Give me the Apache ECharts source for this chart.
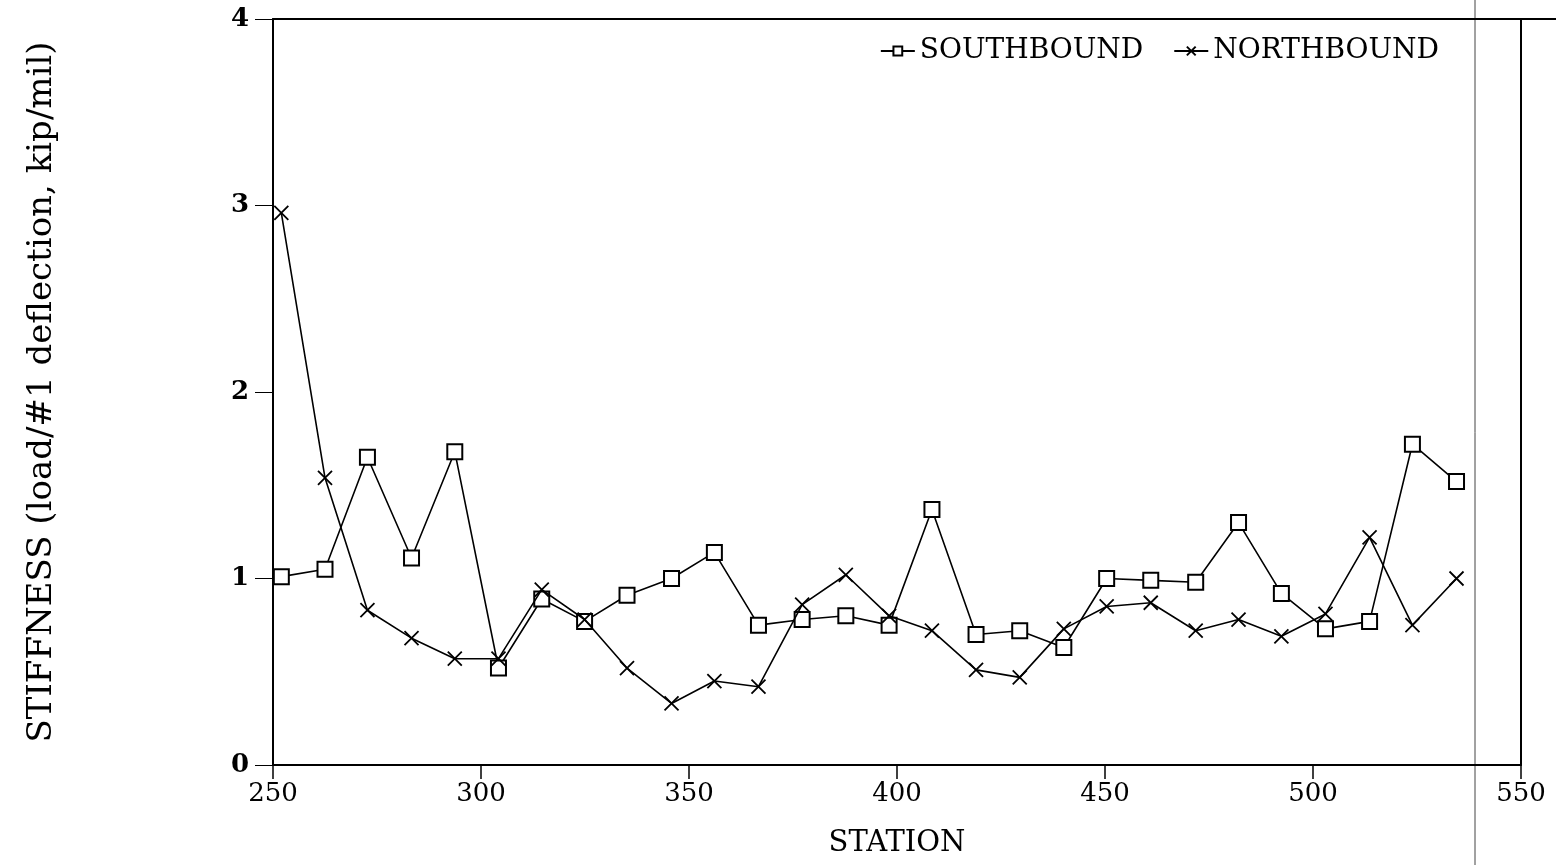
<!DOCTYPE html>
<html>
<head>
<meta charset="utf-8">
<script src="https://cdn.jsdelivr.net/npm/echarts@6/dist/echarts.min.js"></script>
<style>
  html, body { margin: 0; padding: 0; background: #fff; }
  #chart { width: 1556px; height: 865px; }
</style>
</head>
<body>
<div id="chart"></div>
<script>
// station positions
var stations = [252, 262.5, 272.7, 283.3, 293.7, 304.2, 314.6, 324.9, 335.1, 345.8,
  356.1, 366.7, 377.2, 387.7, 398.1, 408.4, 419, 429.5, 440.1, 450.4,
  461, 471.8, 482.1, 492.4, 503, 513.6, 523.9, 534.5]
// stiffness, kip/mil
var southbound = [1.01, 1.05, 1.65, 1.11, 1.68, 0.52, 0.89, 0.77, 0.91, 1.0,
  1.14, 0.75, 0.78, 0.80, 0.75, 1.37, 0.70, 0.72, 0.63, 1.0,
  0.99, 0.98, 1.30, 0.92, 0.73, 0.77, 1.72, 1.52]
var northbound = [2.96, 1.54, 0.83, 0.68, 0.57, 0.57, 0.94, 0.78, 0.52, 0.33,
  0.45, 0.42, 0.86, 1.02, 0.80, 0.72, 0.51, 0.47, 0.73, 0.85,
  0.87, 0.72, 0.78, 0.69, 0.81, 1.22, 0.75, 1.0]

var font = 'DejaVu Serif'
var cross = 'path://M0,0L10,10M10,0L0,10'

function pairs(ys) {
  return stations.map(function (s, i) { return [s, ys[i]] })
}

var chart = echarts.init(document.getElementById('chart'))
var option = {
  animation: false,
  backgroundColor: '#fff',
  grid: { left: 273, top: 19, right: 35, bottom: 100 },
  legend: {
    right: 112,
    top: 32,
    itemWidth: 34,
    itemHeight: 11,
    itemGap: 30,
    textStyle: { fontFamily: font, fontSize: 28, color: '#000' },
    data: ['SOUTHBOUND', 'NORTHBOUND']
  },
  xAxis: [
    {
      type: 'value',
      min: 250,
      max: 550,
      interval: 50,
      name: 'STATION',
      nameLocation: 'middle',
      nameGap: 64,
      nameTextStyle: { fontFamily: font, fontSize: 29, color: '#000' },
      axisLine: { lineStyle: { color: '#000', width: 2 } },
      axisTick: { inside: false, length: 14, lineStyle: { color: '#000', width: 1.5 } },
      axisLabel: { margin: 16, fontFamily: font, fontSize: 26, color: '#000' },
      splitLine: { show: false }
    },
    {
      type: 'value',
      position: 'top',
      min: 250,
      max: 550,
      axisLine: { show: true, onZero: false, lineStyle: { color: '#000', width: 2 } },
      axisTick: { show: false },
      axisLabel: { show: false },
      splitLine: { show: false }
    }
  ],
  yAxis: [
    {
      type: 'value',
      min: 0,
      max: 4,
      interval: 1,
      name: 'STIFFNESS (load/#1 deflection, kip/mil)',
      nameLocation: 'middle',
      nameGap: 214,
      nameTextStyle: { fontFamily: font, fontSize: 34, color: '#000' },
      axisLine: { show: true, lineStyle: { color: '#000', width: 2 } },
      axisTick: { show: true, inside: false, length: 18, lineStyle: { color: '#000', width: 1 } },
      axisLabel: { margin: 24, fontFamily: font, fontSize: 26, fontWeight: 'bold', color: '#000' },
      splitLine: { show: false }
    },
    {
      type: 'value',
      position: 'right',
      min: 0,
      max: 4,
      axisLine: { show: true, onZero: false, lineStyle: { color: '#000', width: 2 } },
      axisTick: { show: false },
      axisLabel: { show: false },
      splitLine: { show: false }
    }
  ],
  series: [
    {
      name: 'SOUTHBOUND',
      type: 'line',
      data: pairs(southbound),
      symbol: 'rect',
      symbolSize: 15,
      lineStyle: { color: '#000', width: 1.6 },
      itemStyle: { color: '#fff', borderColor: '#000', borderWidth: 2 },
      z: 3
    },
    {
      name: 'NORTHBOUND',
      type: 'line',
      data: pairs(northbound),
      symbol: cross,
      symbolSize: 14,
      lineStyle: { color: '#000', width: 1.6 },
      itemStyle: { color: 'none', borderColor: '#000', borderWidth: 1.8 },
      z: 4
    }
  ],
  graphic: [
    // thin page-edge line from the scan
    { type: 'line', shape: { x1: 1475, y1: 0, x2: 1475, y2: 865 }, style: { stroke: '#444', lineWidth: 1 } },
    { type: 'line', shape: { x1: 1518, y1: 19, x2: 1556, y2: 19 }, style: { stroke: '#000', lineWidth: 2 } }
  ]
}
chart.setOption(option)
</script>
</body>
</html>
